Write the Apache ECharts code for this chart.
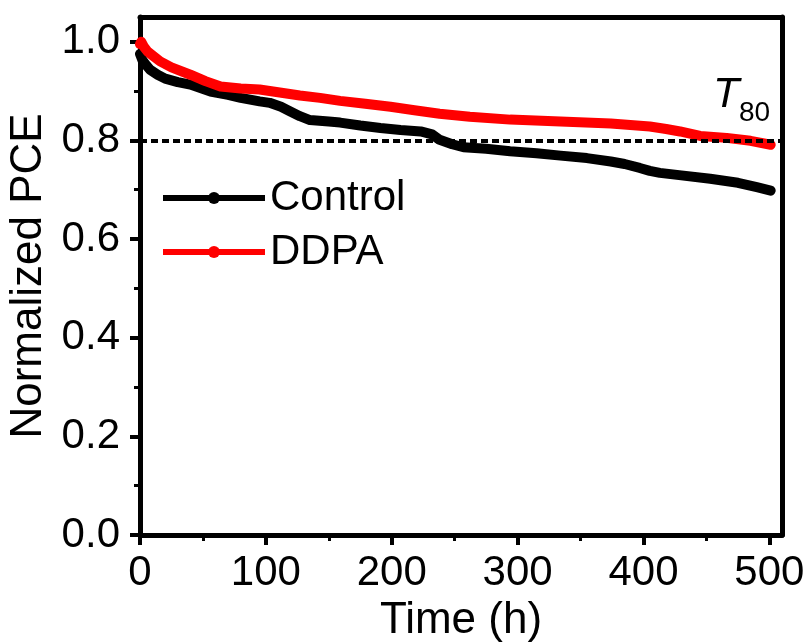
<!DOCTYPE html>
<html>
<head>
<meta charset="utf-8">
<script src="https://cdn.jsdelivr.net/npm/echarts@6/dist/echarts.min.js"></script>
<style>html,body{margin:0;padding:0;background:#fff}#c{width:811px;height:642px}</style>
</head>
<body>
<div id="c"></div>
<script>
var timeControl = [0,2,5,8,14,20,30,40,56,70,80,95,103,112,119,127,135,150,159,175,191,207,223,232,238,248,257,275,294,315,334,355,374,385,397,405,413,430,453,475,490,501];
var control = [0.975,0.962,0.952,0.943,0.933,0.925,0.918,0.913,0.899,0.892,0.886,0.879,0.876,0.868,0.859,0.849,0.841,0.838,0.836,0.830,0.825,0.821,0.818,0.812,0.801,0.792,0.786,0.783,0.778,0.774,0.769,0.764,0.757,0.752,0.744,0.738,0.734,0.729,0.722,0.714,0.705,0.698];
var timeDDPA = [0,1,3,6,10,16,25,40,52,64,80,95,111,127,143,159,179,199,218,238,262,294,334,374,405,418,429,445,466,485,501];
var ddpa = [0.995,1.0,0.99,0.98,0.972,0.960,0.948,0.933,0.920,0.909,0.905,0.903,0.897,0.891,0.886,0.880,0.874,0.868,0.861,0.854,0.848,0.842,0.838,0.834,0.828,0.823,0.818,0.809,0.805,0.799,0.791];
var xTicks = [0,100,200,300,400,500];
var xMinorTicks = [50,150,250,350,450];
var yTicks = [0,0.2,0.4,0.6,0.8,1.0];
var yMinorTicks = [0.1,0.3,0.5,0.7,0.9];
var t80Level = 0.8;
var seriesNames = ['Control','DDPA'];

function pairs(t, v){ return t.map(function(x,i){ return [x, v[i]]; }); }

var FONT = 'Liberation Sans, Arial, sans-serif';
var XMIN = 0, XMAX = 510, YMIN = 0, YMAX = 1.05;
var axisLineStyle = {color:'#000', width:5};

var chart = echarts.init(document.getElementById('c'), null, {renderer:'canvas'});
chart.setOption({
  backgroundColor:'#fff',
  animation:false,
  grid:{left:140, top:17, right:29, bottom:107, containLabel:false, outerBoundsMode:'none'},
  legend:{
    orient:'vertical', left:155, top:172, itemWidth:102, itemHeight:15, itemGap:12,
    textStyle:{fontFamily:FONT, fontSize:42, color:'#000', padding:[0,0,0,0]},
    lineStyle:{width:6, cap:'butt'},
    data:seriesNames
  },
  xAxis:[
    {type:'value', min:XMIN, max:XMAX, position:'bottom',
     name:'Time (h)', nameLocation:'middle', nameGap:61,
     nameTextStyle:{fontFamily:FONT, fontSize:44, color:'#000'},
     axisLine:{show:true, onZero:false, lineStyle:axisLineStyle},
     axisTick:{show:true, length:10, lineStyle:{color:'#000', width:4}, customValues:xTicks},
     axisLabel:{fontFamily:FONT, fontSize:42, color:'#000', margin:17, customValues:xTicks},
     splitLine:{show:false}},
    {type:'value', min:XMIN, max:XMAX, position:'bottom',
     axisLine:{show:false, onZero:false},
     axisTick:{show:true, length:6, lineStyle:{color:'#000', width:3}, customValues:xMinorTicks},
     axisLabel:{show:false}, splitLine:{show:false}},
    {type:'value', min:XMIN, max:XMAX, position:'top',
     axisLine:{show:true, onZero:false, lineStyle:axisLineStyle},
     axisTick:{show:false}, axisLabel:{show:false}, splitLine:{show:false}}
  ],
  yAxis:[
    {type:'value', min:YMIN, max:YMAX, position:'left',
     name:'Normalized PCE', nameLocation:'middle', nameGap:82,
     nameTextStyle:{fontFamily:FONT, fontSize:44, color:'#000'},
     axisLine:{show:true, onZero:false, lineStyle:axisLineStyle},
     axisTick:{show:true, length:10, lineStyle:{color:'#000', width:4}, customValues:yTicks},
     axisLabel:{fontFamily:FONT, fontSize:42, color:'#000', margin:20, customValues:yTicks,
       formatter:function(v){ return v.toFixed(1); }},
     splitLine:{show:false}},
    {type:'value', min:YMIN, max:YMAX, position:'left',
     axisLine:{show:false, onZero:false},
     axisTick:{show:true, length:6, lineStyle:{color:'#000', width:3}, customValues:yMinorTicks},
     axisLabel:{show:false}, splitLine:{show:false}},
    {type:'value', min:YMIN, max:YMAX, position:'right',
     axisLine:{show:true, onZero:false, lineStyle:axisLineStyle},
     axisTick:{show:false}, axisLabel:{show:false}, splitLine:{show:false}}
  ],
  series:[
    {name:seriesNames[0], type:'line', xAxisIndex:0, yAxisIndex:0, data:pairs(timeControl, control),
     symbol:'circle', showSymbol:false, symbolSize:10, smooth:false,
     itemStyle:{color:'#000'}, lineStyle:{color:'#000', width:10, cap:'round', join:'round'}, z:2},
    {name:seriesNames[1], type:'line', xAxisIndex:0, yAxisIndex:0, data:pairs(timeDDPA, ddpa),
     symbol:'circle', showSymbol:false, symbolSize:10, smooth:false,
     itemStyle:{color:'#ff0000'}, lineStyle:{color:'#ff0000', width:10, cap:'round', join:'round'}, z:3},
    {name:'T80', type:'line', xAxisIndex:0, yAxisIndex:0, data:[], z:5,
     markLine:{silent:true, symbol:['none','none'], label:{show:false},
       lineStyle:{color:'#000', width:4, type:[7,4]},
       data:[{yAxis:t80Level}]}}
  ],
  graphic:[
    {type:'text', left:713, top:74, z:10,
     style:{text:'T', fontFamily:FONT, fontSize:43, fontStyle:'italic', fill:'#000'}},
    {type:'text', left:739, top:99, z:10,
     style:{text:'80', fontFamily:FONT, fontSize:28, fill:'#000'}}
  ]
});
</script>
</body>
</html>
